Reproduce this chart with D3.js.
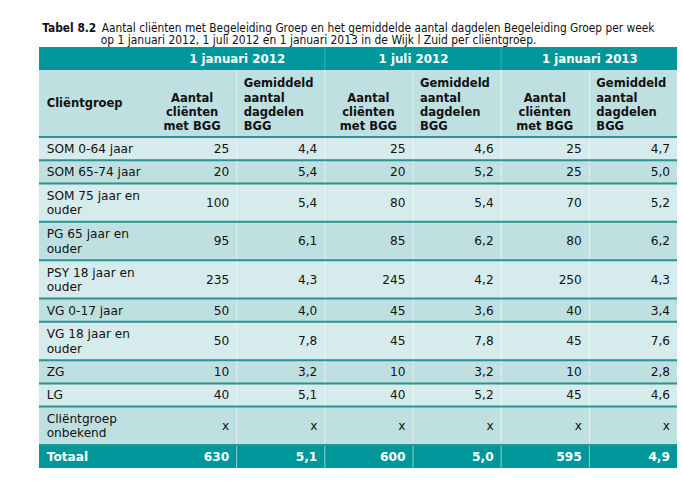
<!DOCTYPE html>
<html><head><meta charset="utf-8">
<script src="https://cdn.jsdelivr.net/npm/d3@7"></script>
<style>
html,body{margin:0;padding:0;background:#fff;}
svg{display:block;font-family:"DejaVu Sans",Verdana,sans-serif;}
</style>
</head><body>
<svg id="c" width="683" height="484"></svg>
<script>
// ---------- data ----------
const titleBold = "Tabel 8.2";
const titleLine1 = "Aantal cliënten met Begeleiding Groep en het gemiddelde aantal dagdelen Begeleiding Groep per week";
const titleLine2 = "op 1 januari 2012, 1 juli 2012 en 1 januari 2013 in de Wijk l Zuid per cliëntgroep.";
const periods = ["1 januari 2012", "1 juli 2012", "1 januari 2013"];
const groupHeader = "Cliëntgroep";
const countHeader = ["Aantal", "cliënten", "met BGG"];
const avgHeader = ["Gemiddeld", "aantal", "dagdelen", "BGG"];
const categories = ["SOM 0-64 jaar", "SOM 65-74 jaar", "SOM 75 jaar en ouder", "PG 65 jaar en ouder",
  "PSY 18 jaar en ouder", "VG 0-17 jaar", "VG 18 jaar en ouder", "ZG", "LG", "Cliëntgroep onbekend"];
// null = "x" (onbekend / niet gerapporteerd)
const clientsJan2012 = [25, 20, 100, 95, 235, 50, 50, 10, 40, null];
const daypartsJan2012 = [4.4, 5.4, 5.4, 6.1, 4.3, 4.0, 7.8, 3.2, 5.1, null];
const clientsJul2012 = [25, 20, 80, 85, 245, 45, 45, 10, 40, null];
const daypartsJul2012 = [4.6, 5.2, 5.4, 6.2, 4.2, 3.6, 7.8, 3.2, 5.2, null];
const clientsJan2013 = [25, 25, 70, 80, 250, 40, 45, 10, 45, null];
const daypartsJan2013 = [4.7, 5.0, 5.2, 6.2, 4.3, 3.4, 7.6, 2.8, 4.6, null];
const totalLabel = "Totaal";
const totalClients = [630, 600, 595];
const totalDayparts = [5.1, 5.0, 4.9];

// ---------- style ----------
const C = {
  dark: "#00979a", light: "#d6ebec", mid: "#bfe0e1", rule: "#2a9394",
  text: "#111", white: "#fff"
};
const left = 39, right = 677, labelColRight = 148;
const bandTop = 47, bandBottom = 70, headBottom = 137;
const singleH = 23.2, doubleH = 38.4, totalH = 23;
const lineH = 14.3;
const titleFont = "'DejaVu Sans Condensed', 'DejaVu Sans', sans-serif";

const svg = d3.select("#c");

// font size that gives a sample string a target width
function fitSize(sample, targetW, weight, family) {
  const t = svg.append("text").attr("font-size", 20).attr("font-weight", weight || "normal").text(sample);
  if (family) t.attr("font-family", family);
  const w = t.node().getComputedTextLength();
  t.remove();
  return 20 * targetW / w;
}
const fs = fitSize("SOM 0-64 jaar", 86.5);
const fsHead = fitSize("Cliëntgroep", 76, "bold");
const fsBand = fitSize("1 januari 2012", 96, "bold");
const fsTotal = fitSize("Totaal", 41.6, "bold");
const fsTitleB = fitSize(titleBold, 54, "bold", titleFont);
const fsTitle1 = fitSize(titleLine1, 553, "normal", titleFont);
const fsTitle2 = fitSize(titleLine2, 436, "normal", titleFont);

const loc = d3.formatLocale({decimal: ",", thousands: ".", grouping: [3], currency: ["€", ""]});
const fInt = loc.format("d"), fDec = loc.format(".1f");

const columns = [
  {key: "n0", values: clientsJan2012, total: totalClients[0], fmt: fInt, type: "n"},
  {key: "d0", values: daypartsJan2012, total: totalDayparts[0], fmt: fDec, type: "d"},
  {key: "n1", values: clientsJul2012, total: totalClients[1], fmt: fInt, type: "n"},
  {key: "d1", values: daypartsJul2012, total: totalDayparts[1], fmt: fDec, type: "d"},
  {key: "n2", values: clientsJan2013, total: totalClients[2], fmt: fInt, type: "n"},
  {key: "d2", values: daypartsJan2013, total: totalDayparts[2], fmt: fDec, type: "d"}
];
const x = d3.scaleBand().domain(columns.map(c => c.key)).range([labelColRight, right]).padding(0);
const bw = x.bandwidth();

// wrap labels in first column
const meas = svg.append("text").attr("font-size", fs).attr("visibility", "hidden");
function wrap(str, maxW) {
  const words = str.split(" "); const lines = []; let cur = "";
  words.forEach(w => {
    const t = cur ? cur + " " + w : w;
    meas.text(t);
    if (meas.node().getComputedTextLength() > maxW && cur) { lines.push(cur); cur = w; }
    else cur = t;
  });
  if (cur) lines.push(cur);
  return lines;
}
const rows = categories.map((c, i) => {
  const lines = wrap(c, 96);
  return {label: c, lines, i, h: lines.length > 1 ? doubleH : singleH};
});
meas.remove();
const ys = d3.cumsum(rows, r => r.h);
rows.forEach((r, i) => { r.y0 = headBottom + (i ? ys[i - 1] : 0); r.y1 = headBottom + ys[i]; });
const totalTop = rows[rows.length - 1].y1, totalBottom = totalTop + totalH;

// ---------- title ----------
const tg = svg.append("g").attr("fill", C.text).attr("font-family", titleFont);
tg.append("text").attr("x", 42.3).attr("y", 31.5).attr("font-weight", "bold").attr("font-size", fsTitleB).text(titleBold);
tg.append("text").attr("x", 101.7).attr("y", 31.5).attr("font-size", fsTitle1).text(titleLine1);
tg.append("text").attr("x", 100.7).attr("y", 44).attr("font-size", fsTitle2).text(titleLine2);

// ---------- backgrounds ----------
svg.append("rect").attr("x", left).attr("y", bandTop).attr("width", right - left).attr("height", bandBottom - bandTop).attr("fill", C.dark);
svg.append("rect").attr("x", left).attr("y", bandBottom).attr("width", right - left).attr("height", headBottom - bandBottom).attr("fill", C.mid);
svg.selectAll("rect.row").data(rows).join("rect").attr("class", "row")
  .attr("x", left).attr("y", d => d.y0).attr("width", right - left).attr("height", d => d.y1 - d.y0)
  .attr("fill", d => d.i % 2 === 0 ? C.light : C.mid);
svg.append("rect").attr("x", left).attr("y", totalTop).attr("width", right - left).attr("height", totalH).attr("fill", C.dark);

// vertical dividers
svg.selectAll("line.bandDiv").data(["n1", "n2"]).join("line").attr("class", "bandDiv")
  .attr("x1", d => x(d) + 0.5).attr("x2", d => x(d) + 0.5).attr("y1", bandTop).attr("y2", bandBottom)
  .attr("stroke", "#3fb0b2").attr("stroke-width", 1);
svg.selectAll("line.vDiv").data(columns.slice(1).map(c => c.key)).join("line").attr("class", "vDiv")
  .attr("x1", d => x(d) + 0.5).attr("x2", d => x(d) + 0.5).attr("y1", bandBottom).attr("y2", totalBottom)
  .attr("stroke", "#ffffff").attr("stroke-opacity", 0.55).attr("stroke-width", 1);

// horizontal rules
const ruleYs = [headBottom].concat(rows.map(r => r.y1));
svg.selectAll("line.hRule").data(ruleYs).join("line").attr("class", "hRule")
  .attr("x1", left).attr("x2", right).attr("y1", d => d).attr("y2", d => d)
  .attr("stroke", C.rule).attr("stroke-width", 2);

// ---------- header texts ----------
svg.selectAll("text.period").data(periods).join("text").attr("class", "period")
  .attr("x", (d, i) => x("d" + i) + 1).attr("y", (bandTop + bandBottom) / 2).attr("dy", "0.36em")
  .attr("text-anchor", "middle").attr("font-weight", "bold").attr("font-size", fsBand).attr("fill", C.white)
  .text(d => d);

svg.append("text").attr("x", 46.7).attr("y", 103.3).attr("dy", "0.36em").attr("font-weight", "bold")
  .attr("font-size", fsHead).attr("fill", C.text).text(groupHeader);

const lastLineY = 126.2;
columns.forEach(c => {
  const lines = c.type === "n" ? countHeader : avgHeader;
  const g = svg.append("text").attr("font-weight", "bold").attr("font-size", fsHead).attr("fill", C.text)
    .attr("text-anchor", c.type === "n" ? "middle" : "start");
  const xx = c.type === "n" ? x(c.key) + bw / 2 : x(c.key) + 7.5;
  g.selectAll("tspan").data(lines).join("tspan")
    .attr("x", xx)
    .attr("y", (d, i) => lastLineY - (lines.length - 1 - i) * lineH)
    .attr("dy", "0.36em").text(d => d);
});

// ---------- body ----------
const body = svg.append("g").attr("font-size", fs).attr("fill", C.text);
rows.forEach(r => {
  const cy = (r.y0 + r.y1) / 2;
  const t = body.append("text");
  t.selectAll("tspan").data(r.lines).join("tspan")
    .attr("x", 46.7)
    .attr("y", (d, i) => cy + (i - (r.lines.length - 1) / 2) * lineH)
    .attr("dy", "0.36em").text(d => d);
  columns.forEach(c => {
    const v = c.values[r.i];
    body.append("text").attr("x", x(c.key) + bw - 7).attr("y", cy).attr("dy", "0.36em")
      .attr("text-anchor", "end").text(v == null ? "x" : c.fmt(v));
  });
});

// ---------- total ----------
const tt = svg.append("g").attr("font-size", fsTotal).attr("font-weight", "bold").attr("fill", C.white);
const tcy = (totalTop + totalBottom) / 2;
tt.append("text").attr("x", 46.7).attr("y", tcy).attr("dy", "0.36em").text(totalLabel);
tt.selectAll("text.tv").data(columns).join("text").attr("class", "tv")
  .attr("x", c => x(c.key) + bw - 7).attr("y", tcy).attr("dy", "0.36em").attr("text-anchor", "end")
  .text(c => c.fmt(c.total));
</script>
</body></html>
